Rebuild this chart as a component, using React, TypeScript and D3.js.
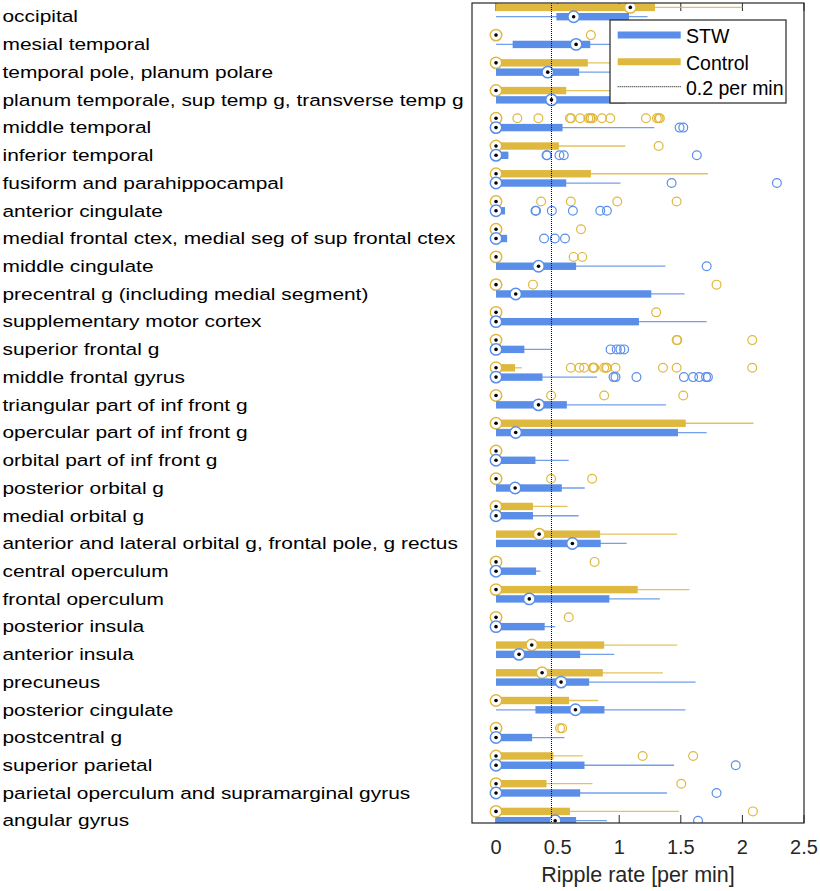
import React from 'react';
import * as d3 from 'd3';

const categories = [
  'occipital',
  'mesial temporal',
  'temporal pole, planum polare',
  'planum temporale, sup temp g, transverse temp g',
  'middle temporal',
  'inferior temporal',
  'fusiform and parahippocampal',
  'anterior cingulate',
  'medial frontal ctex, medial seg of sup frontal ctex',
  'middle cingulate',
  'precentral g (including medial segment)',
  'supplementary motor cortex',
  'superior frontal g',
  'middle frontal gyrus',
  'triangular part of inf front g',
  'opercular part of inf front g',
  'orbital part of inf front g',
  'posterior orbital g',
  'medial orbital g',
  'anterior and lateral orbital g, frontal pole, g rectus',
  'central operculum',
  'frontal operculum',
  'posterior insula',
  'anterior insula',
  'precuneus',
  'posterior cingulate',
  'postcentral g',
  'superior parietal',
  'parietal operculum and supramarginal gyrus',
  'angular gyrus',
];

// Control group
const ctrlLow = [0, 0, 0, 0, 0, 0, 0, 0, 0, 0, 0, 0, 0, 0, 0, 0, 0, 0, 0, 0, 0, 0, 0, 0, 0, 0, 0, 0, 0, 0];
const ctrlQ1 = [0, 0, 0, 0, 0, 0, 0, 0, 0, 0, 0, 0, 0, 0, 0, 0, 0, 0, 0, 0, 0, 0, 0, 0, 0, 0, 0, 0, 0, 0];
const ctrlMed = [1.09, 0, 0, 0, 0, 0, 0, 0, 0, 0, 0, 0, 0, 0, 0, 0, 0, 0, 0, 0.35, 0, 0, 0, 0.29, 0.374, 0, 0, 0, 0, 0];
const ctrlQ3 = [1.29, 0, 0.745, 0.57, 0, 0.51, 0.77, 0, 0, 0, 0, 0, 0, 0.155, 0, 1.54, 0, 0, 0.3, 0.845, 0, 1.15, 0, 0.878, 0.867, 0.593, 0, 0.466, 0.41, 0.6];
const ctrlHigh = [2.0, 0, 1.0, 1.0, 0, 1.05, 1.72, 0, 0, 0, 0, 0, 0, 0.21, 0, 2.09, 0, 0, 0.58, 1.47, 0, 1.57, 0, 1.47, 1.355, 0.83, 0, 0.705, 0.783, 1.485];
const ctrlOutliers = [
  [],
  [0.77],
  [],
  [],
  [0.173, 0.344, 0.6, 0.61, 0.683, 0.75, 0.764, 0.77, 0.783, 0.86, 0.927, 1.217, 1.306, 1.32, 1.33],
  [1.32],
  [],
  [0.366, 0.607, 0.984, 1.466],
  [0.69],
  [0.63, 0.7],
  [0.3, 1.79],
  [1.3],
  [1.466, 1.472, 2.08],
  [0.607, 0.677, 0.715, 0.786, 0.79, 0.797, 0.878, 0.894, 0.9, 0.97, 1.355, 1.466, 2.08],
  [0.447, 0.878, 1.52],
  [],
  [],
  [0.447, 0.78],
  [],
  [],
  [0.8],
  [],
  [0.59],
  [],
  [],
  [],
  [0.52, 0.537],
  [1.19, 1.6],
  [1.504],
  [2.085],
];

// STW group
const stwLow = [0, 0, 0, 0, 0, 0, 0, 0, 0, 0, 0, 0, 0, 0, 0, 0, 0, 0, 0, 0, 0, 0, 0, 0, 0, 0, 0, 0, 0, 0];
const stwQ1 = [0.49, 0.135, 0, 0, 0, 0, 0, 0, 0, 0, 0, 0, 0, 0, 0, 0, 0, 0, 0, 0, 0, 0, 0, 0, 0, 0.32, 0, 0, 0, 0];
const stwMed = [0.63, 0.65, 0.42, 0.45, 0, 0, 0, 0, 0, 0.345, 0.16, 0, 0, 0, 0.345, 0.16, 0, 0.155, 0, 0.62, 0, 0.27, 0, 0.187, 0.528, 0.645, 0, 0, 0, 0.48];
const stwQ3 = [1.08, 0.765, 0.675, 1.05, 0.54, 0.1, 0.57, 0.073, 0.09, 0.65, 1.26, 1.16, 0.23, 0.377, 0.575, 1.477, 0.32, 0.534, 0.3, 0.85, 0.325, 0.92, 0.395, 0.683, 0.756, 0.88, 0.293, 0.718, 0.683, 0.65];
const stwHigh = [1.23, 0.95, 1.0, 1.3, 1.285, 0.1, 1.01, 0.073, 0.09, 1.375, 1.53, 1.71, 0.45, 0.82, 1.38, 1.71, 0.59, 0.72, 0.67, 1.06, 0.36, 1.33, 0.48, 0.96, 1.62, 1.537, 0.555, 1.445, 1.387, 0.9];
const stwOutliers = [
  [],
  [],
  [],
  [],
  [1.49, 1.52],
  [0.41, 0.415, 0.515, 0.55, 1.63],
  [1.425, 2.28],
  [0.32, 0.325, 0.453, 0.624, 0.846, 0.9],
  [0.39, 0.477, 0.56],
  [1.71],
  [],
  [],
  [0.93, 0.98, 1.01, 1.04],
  [0.954, 0.97, 1.14, 1.525, 1.6, 1.65, 1.705, 1.72],
  [],
  [],
  [],
  [],
  [],
  [],
  [],
  [],
  [],
  [],
  [],
  [],
  [],
  [1.946],
  [1.79],
  [1.64],
];

const xTicks = [0, 0.5, 1, 1.5, 2, 2.5];
const threshold = 0.45;
const legendLabels = ['STW', 'Control', '0.2 per min'];

const BLUE = '#5a8ee8';
const GOLD = '#dfb840';
const AXIS = '#262626';

const W = 820;
const H = 891;
const left = 472;
const right = 804;
const top = 3;
const bottom = 823;

export default function App() {
  const x = d3.scaleLinear().domain([-0.195, 2.5]).range([left, right]);
  const y = d3.scalePoint<string>().domain(categories).range([16.7, 820.7]);
  const ctrlOff = -9.3;
  const boxH = 7.4;

  const groups = [
    { name: 'Control', color: GOLD, off: ctrlOff, low: ctrlLow, q1: ctrlQ1, med: ctrlMed, q3: ctrlQ3, high: ctrlHigh, out: ctrlOutliers },
    { name: 'STW', color: BLUE, off: 0, low: stwLow, q1: stwQ1, med: stwMed, q3: stwQ3, high: stwHigh, out: stwOutliers },
  ];

  const labelScale = 1.245;

  return (
    <svg width={W} height={H} style={{ position: 'absolute', left: 0, top: 0, background: '#fff' }}
      fontFamily="'Liberation Sans', Arial, sans-serif">
      <defs>
        <clipPath id="plotclip">
          <rect x={left} y={top} width={right - left} height={bottom - top} />
        </clipPath>
      </defs>
      <rect x={0} y={0} width={W} height={H} fill="#fff" />
      {/* category labels */}
      <g transform={`scale(${labelScale},1)`}>
        {categories.map((c) => (
          <text key={c} x={2.5 / labelScale} y={(y(c) as number) + 5.8} fontSize={16.8} fill="#000">
            {c}
          </text>
        ))}
      </g>
      {/* ticks */}
      {xTicks.map((t) => (
        <g key={t}>
          <line x1={x(t)} x2={x(t)} y1={bottom} y2={bottom - 8} stroke={AXIS} strokeWidth={1} />
          <line x1={x(t)} x2={x(t)} y1={top} y2={top + 8} stroke={AXIS} strokeWidth={1} />
          <text x={x(t)} y={854.3} fontSize={20} textAnchor="middle" fill={AXIS}>{t}</text>
        </g>
      ))}
      <text x={(left + right) / 2} y={881.7} fontSize={21.5} textAnchor="middle" fill={AXIS}>
        Ripple rate [per min]
      </text>
      <g clipPath="url(#plotclip)">
        {groups.map((g) =>
          categories.map((c, i) => {
            const cy = (y(c) as number) + g.off;
            return (
              <g key={g.name + c}>
                {g.high[i] > g.low[i] && (
                  <line x1={x(g.low[i])} x2={x(g.high[i])} y1={cy} y2={cy} stroke={g.color} strokeWidth={1.3} strokeOpacity={0.85} />
                )}
                {g.q3[i] > g.q1[i] && (
                  <rect x={x(g.q1[i])} y={cy - boxH / 2} width={x(g.q3[i]) - x(g.q1[i])} height={boxH} fill={g.color} />
                )}
                {g.out[i].map((o, k) => (
                  <circle key={k} cx={x(o)} cy={cy} r={4.4} fill="none" stroke={g.color} strokeWidth={1.2} />
                ))}
                <circle cx={x(g.med[i])} cy={cy} r={5.7} fill="#fff" stroke={g.color} strokeWidth={1.5} />
                <circle cx={x(g.med[i])} cy={cy} r={1.8} fill="#000" />
              </g>
            );
          })
        )}
      </g>
      {/* threshold line */}
      <line x1={x(threshold)} x2={x(threshold)} y1={top} y2={bottom} stroke="#000" strokeWidth={1} strokeDasharray="1,1" />
      {/* axes box */}
      <rect x={left} y={top} width={right - left} height={bottom - top} fill="none" stroke={AXIS} strokeWidth={1.2} />
      {/* legend */}
      <g>
        <rect x={610} y={20} width={176} height={83} fill="#fff" stroke={AXIS} strokeWidth={1.2} />
        <line x1={617.7} x2={680.7} y1={35} y2={35} stroke={BLUE} strokeWidth={7} />
        <text x={686} y={43.3} fontSize={19.5} fill="#000">{legendLabels[0]}</text>
        <line x1={617.7} x2={680.7} y1={61.7} y2={61.7} stroke={GOLD} strokeWidth={7} />
        <text x={686} y={69.6} fontSize={19.5} fill="#000">{legendLabels[1]}</text>
        <line x1={617.7} x2={680.7} y1={86.7} y2={86.7} stroke="#000" strokeWidth={1} strokeDasharray="1,1" />
        <text x={686} y={94.5} fontSize={19.5} fill="#000">{legendLabels[2]}</text>
      </g>
    </svg>
  );
}
